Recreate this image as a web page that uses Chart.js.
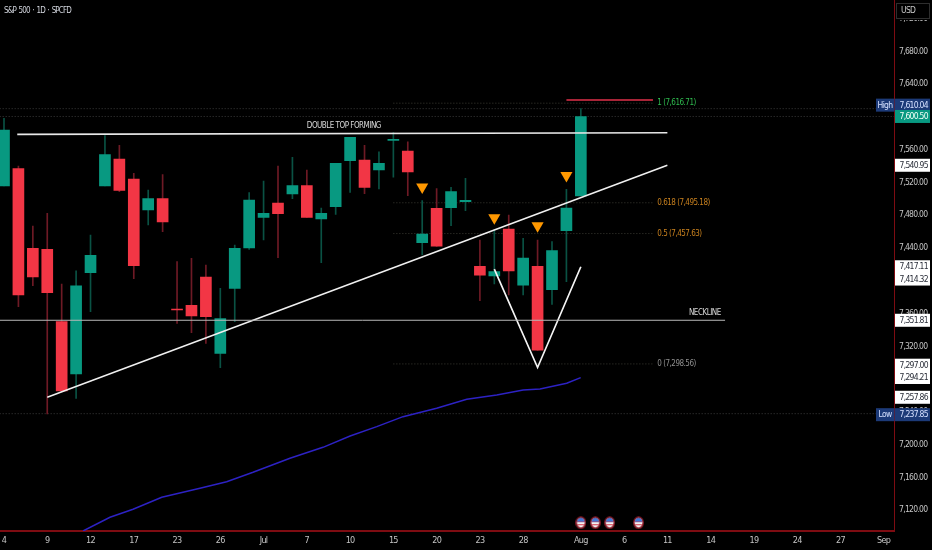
<!DOCTYPE html>
<html>
<head>
<meta charset="utf-8">
<script src="https://cdn.jsdelivr.net/npm/chart.js"></script>
<style>
html, body { margin: 0; padding: 0; background: #000; overflow: hidden; }
canvas { display: block; }
</style>
</head>
<body>
<canvas id="chart" width="932" height="550"></canvas>
<script>
// candles
var opens  = [7515.7,7536.8,7439.6,7438.4,7350.1,7286.3,7410.0,7515.7,7548.6,7524.2,7486.4,7500.2,7365.6,7370.1,7404.6,7311.5,7390.8,7440.0,7477.4,7494.9,7505.9,7516.1,7475.4,7490.5,7546.6,7547.4,7535.2,7571.4,7558.4,7446.5,7488.4,7489.2,7496.6,7417.7,7405.9,7463.2,7394.5,7417.7,7389.2,7461.2,7503.5];
var highs  = [7598.2,7540.1,7466.9,7482.3,7396.1,7412.0,7455.9,7577.1,7565.3,7531.1,7510.8,7529.5,7423.3,7427.4,7419.3,7390.8,7443.7,7507.5,7521.8,7540.1,7550.6,7535.2,7488.8,7543.3,7575.0,7565.3,7557.2,7580.7,7569.4,7497.8,7512.4,7514.0,7525.0,7449.8,7462.0,7480.3,7451.8,7449.8,7447.8,7511.6,7610.0];
var lows   = [7515.7,7368.4,7394.1,7237.5,7265.0,7256.6,7362.3,7515.7,7508.8,7402.6,7468.1,7460.0,7348.1,7336.7,7323.7,7294.0,7350.1,7438.4,7449.8,7428.2,7500.2,7477.4,7422.1,7481.1,7507.9,7506.3,7512.0,7526.3,7503.9,7431.5,7442.0,7467.3,7485.6,7375.8,7396.1,7382.7,7382.7,7315.0,7371.3,7399.0,7503.5];
var closes = [7584.0,7382.7,7404.6,7385.5,7265.6,7393.7,7431.1,7553.9,7510.4,7418.5,7500.2,7471.7,7364.4,7357.1,7356.2,7353.8,7439.6,7498.6,7482.3,7481.9,7516.1,7477.4,7482.3,7543.3,7575.0,7514.0,7543.3,7572.2,7532.8,7457.1,7442.1,7508.8,7498.2,7406.7,7411.1,7412.0,7427.8,7315.2,7436.8,7488.8,7600.5];

// blue moving average
var maX = [5.48,7.35,8.95,10.94,13.59,15.44,17.27,19.83,22.12,24,25.85,27.67,30,32.09,34.17,36,37.17,39.02,39.99];
var maY = [7094.7,7111.4,7121.2,7135.8,7146.8,7154.9,7166.3,7183.4,7196.8,7210.6,7222,7234.2,7244.4,7255.4,7260.7,7266.8,7268,7274.9,7281.8];

// drawn lines
var topLineX = [0.92, 46], topLineY = [7578.7, 7580.7];
var trendX = [3, 46], trendY = [7257.86, 7540.95];
var neckX = [-0.3, 50], neckY = [7351.81, 7351.81];
var vX = [34, 37, 40], vY = [7414.32, 7294.21, 7417.11];
var redX = [39, 45], redY = [7620.6, 7620.6];

// dotted levels
var fibLevels = [7616.71, 7495.18, 7457.63, 7298.56];
var fibX = [27, 45];
var fullLevels = [7610.04, 7600.50, 7237.85];
var fullX = [-0.3, 61.75];

// orange markers and event flags
var markX = [29, 34, 37, 39];
var markY = [7514.4, 7477, 7467.2, 7528.5];
var flagX = [40, 41, 42, 44];
var flagY = [7104.8, 7104.8, 7104.8, 7104.8];

// axis labels
var yTicks = [7120,7160,7200,7240,7280,7320,7360,7400,7440,7480,7520,7560,7600,7640,7680,7720];
var xTickPos = [0,3,6,9,12,15,18,21,24,27,30,33,36,40,43,46,49,52,55,58,61];
var xTickText = ["4","9","12","17","23","26","Jul","7","10","15","20","23","28","Aug","6","11","14","19","24","27","Sep"];

// text beside the lines
var noteText = ["DOUBLE TOP FORMING","NECKLINE","1 (7,616.71)","0.618 (7,495.18)","0.5 (7,457.63)","0 (7,298.56)"];
var noteX = [21, 49.7, 45.3, 45.3, 45.3, 45.3];
var noteY = [7588.5, 7360.3, 7616.7, 7495.2, 7457.6, 7298.6];
var noteAlign = ["left","right","left","left","left","left"];
var noteColor = ["#d8d8d8","#d8d8d8","#2fbb4f","#c8801e","#c8801e","#8f8f8f"];

// price tags on the right axis
var tagPrice = [7610.04,7600.50,7540.95,7417.11,7414.32,7351.81,7297.00,7294.21,7257.86,7237.85];
var tagText = ["7,610.04","7,600.50","7,540.95","7,417.11","7,414.32","7,351.81","7,297.00","7,294.21","7,257.86","7,237.85"];
var tagKind = ["blue","green","white","white","white","white","white","white","white","blue"];
var tagShift = [-3.5,0,0,0,10,0,0,10,0,1];

var FONT = '"DejaVu Sans Condensed", "Liberation Sans Narrow", Roboto, sans-serif';

function xy(xs, ys) {
    return xs.map(function (x, i) { return { x: x, y: ys[i] }; });
}

function lineSet(xs, ys, color, width, dash) {
    return {
        type: "line",
        data: xy(xs, ys),
        borderColor: color,
        borderWidth: width,
        borderDash: dash || [],
        pointRadius: 0,
        fill: false,
        tension: 0,
        order: 1
    };
}

function makeFlag() {
    var c = document.createElement("canvas");
    c.width = 11; c.height = 13;
    var g = c.getContext("2d");
    g.beginPath(); g.ellipse(5.5, 6.5, 5.4, 6.3, 0, 0, Math.PI * 2);
    g.fillStyle = "#8a1a28"; g.fill();
    g.save();
    g.beginPath(); g.ellipse(5.5, 6.5, 3.9, 4.7, 0, 0, Math.PI * 2); g.clip();
    g.fillStyle = "#f2f2f2"; g.fillRect(0, 0, 11, 13);
    g.fillStyle = "#d8394a"; g.fillRect(0, 5, 11, 1); g.fillRect(0, 8, 11, 1);
    g.fillStyle = "#3f78d8"; g.fillRect(0, 0, 11, 5.5);
    g.restore();
    return c;
}

var datasets = [];

// wicks then bodies, as floating bars
datasets.push({
    data: opens.map(function (o, i) { return { x: i, y: [lows[i], highs[i]] }; }),
    backgroundColor: opens.map(function (o, i) { return closes[i] >= o ? "#0a5244" : "#6e1a25"; }),
    barThickness: 1,
    grouped: false,
    order: 6
});
datasets.push({
    data: opens.map(function (o, i) { return { x: i, y: [o, closes[i]] }; }),
    backgroundColor: opens.map(function (o, i) { return closes[i] >= o ? "#089981" : "#f23645"; }),
    barThickness: 11,
    grouped: false,
    minBarLength: 1,
    order: 5
});

fullLevels.forEach(function (p) {
    var s = lineSet(fullX, [p, p], "#3c3c3c", 1, [1, 2]); s.order = 7; datasets.push(s);
});
fibLevels.forEach(function (p) {
    var s = lineSet(fibX, [p, p], "#3a3a32", 1, [1, 2]); s.order = 7; datasets.push(s);
});
datasets.push(lineSet(maX, maY, "#2d22c4", 1.5));
datasets.push(lineSet(neckX, neckY, "#b8b8b8", 1));
datasets.push(lineSet(topLineX, topLineY, "#e8e8e8", 1.6));
datasets.push(lineSet(trendX, trendY, "#f0f0f0", 1.5));
datasets.push(lineSet(vX, vY, "#f4f4f4", 1.7));
datasets.push(lineSet(redX, redY, "#e0304a", 1.6));

datasets.push({
    type: "scatter",
    data: xy(markX, markY),
    pointStyle: "triangle",
    rotation: 180,
    radius: 7,
    backgroundColor: "#ff9800",
    borderWidth: 0,
    order: 0
});
datasets.push({
    type: "scatter",
    data: xy(flagX, flagY),
    pointStyle: makeFlag(),
    order: 0
});

// notes, price tags, symbol and USD box
var overlay = {
    id: "overlay",
    afterDraw: function (chart) {
        var ctx = chart.ctx, sx = chart.scales.x, sy = chart.scales.y;
        ctx.save();
        ctx.textBaseline = "middle";

        ctx.font = "8px " + FONT;
        ctx.letterSpacing = "-0.5px";
        noteText.forEach(function (t, i) {
            ctx.textAlign = noteAlign[i];
            ctx.fillStyle = noteColor[i];
            ctx.fillText(t, sx.getPixelForValue(noteX[i]), sy.getPixelForValue(noteY[i]));
        });

        ctx.textAlign = "left";
        ctx.fillStyle = "#d1d4dc";
        ctx.letterSpacing = "-0.85px";
        ctx.wordSpacing = "1.2px";
        ctx.fillText("S&P 500 · 1D · SPCFD", 4, 10.5);
        ctx.wordSpacing = "0px";

        ctx.font = "8.5px " + FONT;
        ctx.letterSpacing = "-0.7px";
        var left = sx.right + 0.5;
        tagPrice.forEach(function (p, i) {
            var y = sy.getPixelForValue(p) + tagShift[i];
            var kind = tagKind[i];
            ctx.fillStyle = kind === "white" ? "#ffffff" : kind === "green" ? "#089981" : "#1c3a78";
            ctx.fillRect(left, y - 6.5, 35, 13);
            ctx.fillStyle = kind === "white" ? "#2a2e39" : kind === "green" ? "#f2fff8" : "#d5e0ff";
            ctx.textAlign = "left";
            ctx.fillText(tagText[i], left + 4.5, y + 0.5);
            if (kind === "blue") {
                ctx.fillStyle = "#1c3a78";
                ctx.fillRect(left - 19, y - 6.5, 18.5, 13);
                ctx.fillStyle = "#d5e0ff";
                ctx.textAlign = "center";
                ctx.fillText(i === 0 ? "High" : "Low", left - 10, y + 0.5);
            }
        });

        ctx.fillStyle = "#000";
        ctx.fillRect(896, 2, 36, 18);
        ctx.strokeStyle = "#2e2e2e";
        ctx.strokeRect(896.5, 3.5, 33, 15);
        ctx.fillStyle = "#c8c8c8";
        ctx.textAlign = "left";
        ctx.fillText("USD", 901, 11);
        ctx.restore();
    }
};

var blackBg = {
    id: "blackBg",
    beforeDraw: function (chart) {
        chart.ctx.fillStyle = "#000";
        chart.ctx.fillRect(0, 0, chart.width, chart.height);
        chart.ctx.letterSpacing = "-0.7px";  // axis text in the picture is squeezed
    }
};

function noPadding(s) {
    s.paddingLeft = 0; s.paddingRight = 0; s.paddingTop = 0; s.paddingBottom = 0;
}

new Chart(document.getElementById("chart"), {
    type: "bar",
    data: { datasets: datasets },
    plugins: [blackBg, overlay],
    options: {
        responsive: false,
        animation: false,
        layout: { padding: 0, autoPadding: false },
        plugins: { legend: { display: false }, tooltip: { enabled: false } },
        scales: {
            x: {
                type: "linear",
                offset: false,
                min: -0.277,
                max: 61.75,
                grid: { display: false, drawTicks: false },
                border: { color: "#7e0c12", width: 2 },
                afterBuildTicks: function (s) {
                    s.ticks = xTickPos.map(function (v) { return { value: v }; });
                },
                afterFit: function (s) { s.height = 19; noPadding(s); },
                ticks: {
                    autoSkip: false,
                    maxRotation: 0,
                    padding: 4.5,
                    color: "#c4c4c4",
                    font: { family: FONT, size: 9 },
                    callback: function (v) { return xTickText[xTickPos.indexOf(v)]; }
                }
            },
            y: {
                position: "right",
                min: 7094.7,
                max: 7742.6,
                grid: { display: false, drawTicks: false },
                border: { color: "#7e0c12", width: 1 },
                afterBuildTicks: function (s) {
                    s.ticks = yTicks.map(function (v) { return { value: v }; });
                },
                afterFit: function (s) { s.width = 37.5; noPadding(s); },
                ticks: {
                    padding: 4.5,
                    color: "#c4c4c4",
                    font: { family: FONT, size: 8.5 },
                    callback: function (v) { return v.toLocaleString("en-US", { minimumFractionDigits: 2 }); }
                }
            }
        }
    }
});
</script>
</body>
</html>
